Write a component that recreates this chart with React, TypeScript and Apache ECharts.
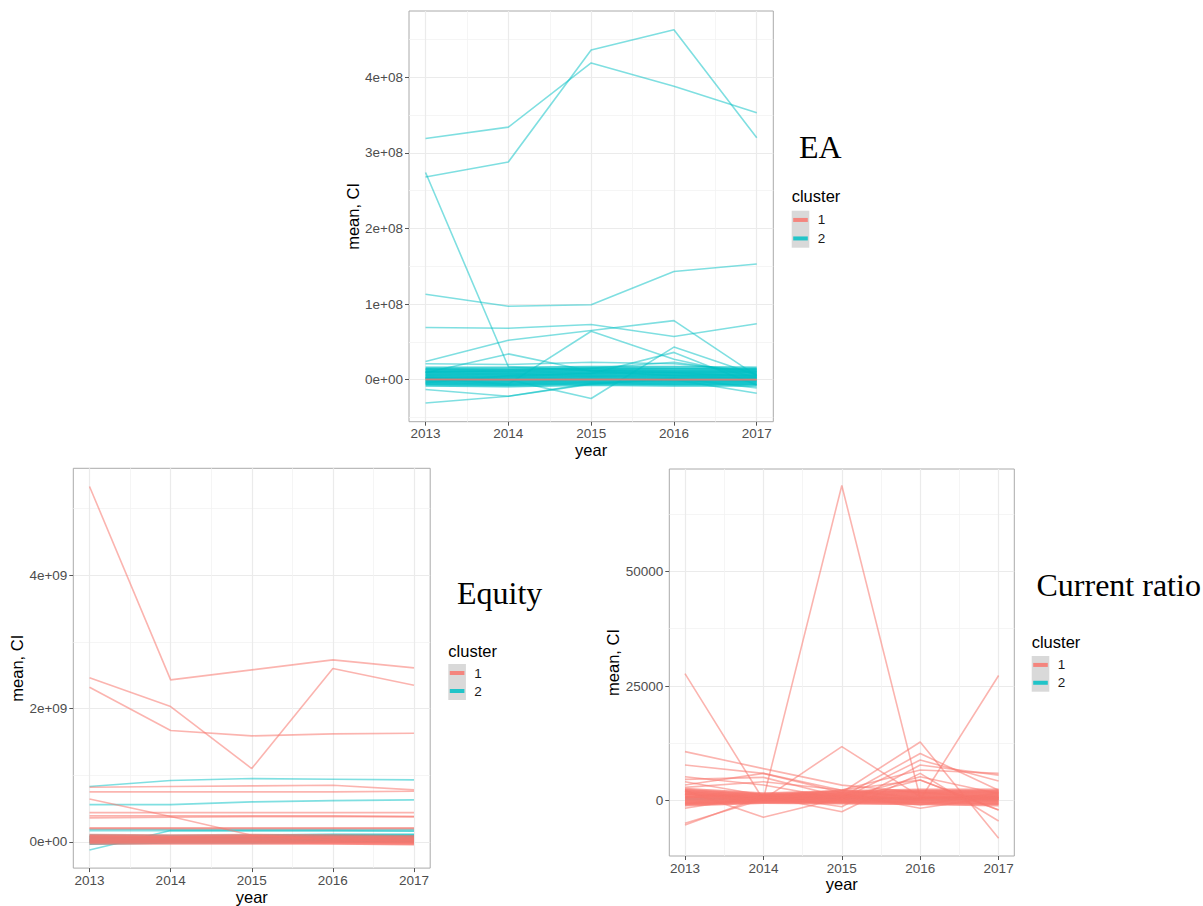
import React, { useEffect, useRef } from "react";
import * as echarts from "echarts";

// ---------- data ----------
const years = [2013, 2014, 2015, 2016, 2017];
const xTickValues = [2013, 2014, 2015, 2016, 2017];
const xMinorValues = [2013.5, 2014.5, 2015.5, 2016.5];

// EA panel, values in units of 1e8
const eaTickValues = [0, 1, 2, 3, 4];
const eaTickLabels = ["0e+00", "1e+08", "2e+08", "3e+08", "4e+08"];
const eaMinorValues = [-0.5, 0.5, 1.5, 2.5, 3.5, 4.5];
const eaCluster2Lines = [
  [3.19, 3.34, 4.19, 3.88, 3.53],
  [2.68, 2.88, 4.36, 4.63, 3.2],
  [2.74, 0.17, 0.12, 0.09, 0.04],
  [1.13, 0.97, 0.99, 1.43, 1.53],
  [0.69, 0.68, 0.73, 0.57, 0.74],
  [0.24, 0.52, 0.65, 0.78, 0.05],
  [0.02, -0.06, 0.64, 0.27, 0.03],
  [0.09, 0.34, 0.11, 0.05, 0.02],
  [0.21, 0.2, 0.23, 0.21, 0.11],
  [0.03, 0.0, -0.25, 0.43, 0.06],
  [-0.04, 0.05, 0.08, 0.36, -0.07],
  [-0.13, -0.22, -0.06, 0.02, -0.11],
  [-0.31, -0.22, -0.05, 0.0, -0.18],
  [0.1, 0.12, 0.15, 0.23, 0.08],
];
const eaCluster2Band = [
  [0.15, 0.15, 0.16, 0.16, 0.15],
  [0.13, 0.12, 0.14, 0.13, 0.13],
  [0.11, 0.1, 0.12, 0.11, 0.11],
  [0.09, 0.08, 0.1, 0.09, 0.09],
  [0.07, 0.06, 0.08, 0.07, 0.07],
  [0.05, 0.04, 0.06, 0.05, 0.05],
  [0.03, 0.02, 0.04, 0.03, 0.03],
  [0.01, 0.0, 0.02, 0.01, 0.01],
  [-0.01, -0.02, 0.0, -0.01, -0.01],
  [-0.03, -0.04, -0.02, -0.03, -0.03],
  [-0.05, -0.06, -0.04, -0.05, -0.05],
  [-0.07, -0.08, -0.06, -0.07, -0.07],
];
const eaCluster1Lines = [
  [0.0, 0.0, 0.0, 0.0, 0.0],
  [0.005, 0.0, 0.005, 0.0, 0.0],
];

// Equity panel, values in units of 1e9
const eqTickValues = [0, 2, 4];
const eqTickLabels = ["0e+00", "2e+09", "4e+09"];
const eqMinorValues = [1, 3, 5];
const eqCluster2Lines = [
  [0.83, 0.92, 0.95, 0.94, 0.93],
  [0.56, 0.56, 0.6, 0.62, 0.63],
  [0.19, 0.19, 0.19, 0.19, 0.19],
  [0.17, 0.17, 0.17, 0.17, 0.16],
  [-0.12, 0.17, 0.17, 0.17, 0.17],
];
const eqCluster2Band = [
  [0.09, 0.08, 0.09, 0.1, 0.1],
  [0.06, 0.06, 0.07, 0.08, 0.08],
  [0.03, 0.04, 0.05, 0.05, 0.06],
  [0.01, 0.02, 0.02, 0.03, 0.03],
  [-0.02, 0.0, 0.0, 0.01, 0.01],
];
const eqCluster1Lines = [
  [5.33, 2.43, 2.58, 2.73, 2.61],
  [2.46, 2.03, 1.1, 2.6, 2.35],
  [2.32, 1.67, 1.59, 1.62, 1.63],
  [0.82, 0.83, 0.84, 0.85, 0.78],
  [0.75, 0.75, 0.75, 0.75, 0.76],
  [0.645, 0.38, 0.1, 0.03, 0.02],
  [0.44, 0.44, 0.44, 0.44, 0.44],
  [0.39, 0.39, 0.39, 0.39, 0.38],
  [0.36, 0.37, 0.38, 0.38, 0.38],
  [0.21, 0.21, 0.21, 0.21, 0.21],
  [0.2, 0.2, 0.2, 0.2, 0.2],
];
const eqCluster1Band = [
  [0.1, 0.09, 0.1, 0.09, 0.08],
  [0.08, 0.07, 0.08, 0.07, 0.06],
  [0.06, 0.06, 0.06, 0.05, 0.04],
  [0.04, 0.04, 0.04, 0.03, 0.02],
  [0.02, 0.02, 0.02, 0.01, 0.0],
  [0.0, 0.0, 0.0, -0.01, -0.02],
  [-0.02, -0.02, -0.02, -0.02, -0.03],
];

// Current ratio panel
const crTickValues = [0, 25000, 50000];
const crTickLabels = ["0", "25000", "50000"];
const crMinorValues = [12500, 37500, 62500];
const crCluster2Lines = [
  [300, 200, 400, 300, 200],
  [600, 500, 700, 500, 600],
];
const crCluster1Lines = [
  [1500, 400, 68700, 600, 800],
  [27700, 200, 800, 500, 1200],
  [900, 300, 1200, 200, 27300],
  [-4930, 300, 11800, 900, 500],
  [10700, 7000, 3400, 1800, 600],
  [7800, 5960, 2300, 600, 300],
  [-5290, 900, 2300, 4500, -2030],
  [3410, 5960, 1800, 12800, -8200],
  [4650, 5090, 800, 10300, 2300],
  [5230, 3410, 400, 8860, 4280],
  [4140, 1200, -1300, 7780, 5580],
  [2900, 4140, 2320, 6690, 5950],
  [-1660, 1000, -2390, 5960, -4420],
  [2200, -3620, 600, 5230, 1500],
  [1500, 800, 200, 4500, -2030],
  [800, 1400, 1000, -940, 1800],
  [2000, 600, 1500, -1660, 900],
];
const crCluster1Band = [
  [2500, 1500, 2000, 2300, 2300],
  [2200, 1300, 1800, 2050, 2000],
  [1900, 1100, 1550, 1800, 1750],
  [1600, 900, 1300, 1550, 1500],
  [1300, 750, 1100, 1300, 1250],
  [1000, 600, 900, 1050, 1000],
  [700, 450, 700, 800, 750],
  [400, 300, 500, 550, 500],
  [100, 150, 300, 300, 250],
  [-200, 0, 100, 50, 0],
  [-450, -150, -100, -200, -300],
  [-700, -250, -300, -450, -600],
  [-900, -350, -500, -650, -900],
];

const clusterNames = ["1", "2"];
const panelTitles = ["EA", "Equity", "Current ratio"];

// ---------- styling ----------
const RED = "#F8766D";
const TEAL = "#00BFC4";
const SANS = "'Liberation Sans', Arial, Helvetica, sans-serif";
const SERIF = "'Liberation Serif', 'Times New Roman', serif";

type Panel = {
  left: number; top: number; width: number; height: number;
  yMin: number; yMax: number;
  yTicks: number[]; yLabels: string[]; yMinor: number[];
  xNameGap: number; yNameGap: number;
  teal: number[][]; tealBand: number[][];
  red: number[][]; redBand: number[][];
};

const panels: Panel[] = [
  {
    left: 409, top: 11, width: 364.3, height: 410.7,
    yMin: -0.557, yMax: 4.877,
    yTicks: eaTickValues, yLabels: eaTickLabels, yMinor: eaMinorValues,
    xNameGap: 19, yNameGap: 44,
    teal: eaCluster2Lines, tealBand: eaCluster2Band, red: eaCluster1Lines, redBand: [],
  },
  {
    left: 73.3, top: 468.3, width: 356.9, height: 402.4,
    yMin: -0.3925, yMax: 5.6025,
    yTicks: eqTickValues, yLabels: eqTickLabels, yMinor: eqMinorValues,
    xNameGap: 17, yNameGap: 44,
    teal: eqCluster2Lines, tealBand: eqCluster2Band, red: eqCluster1Lines, redBand: eqCluster1Band,
  },
  {
    left: 669.3, top: 469, width: 345, height: 387,
    yMin: -12050, yMax: 72300,
    yTicks: crTickValues, yLabels: crTickLabels, yMinor: crMinorValues,
    xNameGap: 17, yNameGap: 41,
    teal: crCluster2Lines, tealBand: [], red: crCluster1Lines, redBand: crCluster1Band,
  },
];

const legends = [
  { x: 791.7, titleY: 196, boxTop: 210.7, keyH: 18.5, tx: 799, ty: 147 },
  { x: 448.3, titleY: 651, boxTop: 664, keyH: 18, tx: 457, ty: 593.3 },
  { x: 1031.7, titleY: 642.3, boxTop: 656, keyH: 17.85, tx: 1036.5, ty: 585 },
];

function buildOption() {
  const grid: any[] = [];
  const xAxis: any[] = [];
  const yAxis: any[] = [];
  const series: any[] = [];
  const graphic: any[] = [];

  panels.forEach((p, i) => {
    grid.push({
      left: p.left, top: p.top, width: p.width, height: p.height,
      show: true, borderColor: "#aaaaaa", borderWidth: 1, backgroundColor: "#ffffff",
    });
    xAxis.push({
      type: "value", gridIndex: i, min: 2012.8, max: 2017.2, position: "bottom",
      name: "year", nameLocation: "middle", nameGap: p.xNameGap,
      nameTextStyle: { fontFamily: SANS, fontSize: 16.5, color: "#000" },
      axisLine: { show: false, onZero: false },
      axisTick: { show: true, length: 4, customValues: xTickValues, lineStyle: { color: "#555", width: 1 } },
      axisLabel: {
        show: true, customValues: xTickValues, margin: 5,
        fontFamily: SANS, fontSize: 13.5, color: "#4d4d4d",
        formatter: (v: number) => String(Math.round(v)),
      },
      splitLine: { show: true, lineStyle: { color: "#ebebeb", width: 1.2 } },
    });
    xAxis.push({
      type: "value", gridIndex: i, min: 2012.8, max: 2017.2, position: "top",
      axisLine: { show: false, onZero: false },
      axisTick: { show: false, customValues: xMinorValues },
      axisLabel: { show: false, customValues: xMinorValues },
      splitLine: { show: true, lineStyle: { color: "#f3f3f3", width: 0.8 } },
    });
    yAxis.push({
      type: "value", gridIndex: i, min: p.yMin, max: p.yMax, position: "left",
      name: "mean, CI", nameLocation: "middle", nameGap: p.yNameGap, nameRotate: 90,
      nameTextStyle: { fontFamily: SANS, fontSize: 16.5, color: "#000" },
      axisLine: { show: false, onZero: false },
      axisTick: { show: true, length: 4, customValues: p.yTicks, lineStyle: { color: "#555", width: 1 } },
      axisLabel: {
        show: true, customValues: p.yTicks, margin: 6,
        fontFamily: SANS, fontSize: 13.5, color: "#4d4d4d",
        formatter: (v: number) => {
          const k = p.yTicks.findIndex((t) => Math.abs(t - v) < 1e-6 * Math.max(1, Math.abs(t)));
          return k >= 0 ? p.yLabels[k] : "";
        },
      },
      splitLine: { show: true, lineStyle: { color: "#ebebeb", width: 1.2 } },
    });
    yAxis.push({
      type: "value", gridIndex: i, min: p.yMin, max: p.yMax, position: "right",
      axisLine: { show: false, onZero: false },
      axisTick: { show: false, customValues: p.yMinor },
      axisLabel: { show: false, customValues: p.yMinor },
      splitLine: { show: true, lineStyle: { color: "#f3f3f3", width: 0.8 } },
    });

    const mk = (vals: number[], color: string, width: number, opacity: number, z: number) => ({
      type: "line",
      xAxisIndex: 2 * i,
      yAxisIndex: 2 * i,
      data: years.map((y, k) => [y, vals[k]]),
      showSymbol: false,
      symbol: "none",
      silent: true,
      z,
      lineStyle: { color, width, opacity },
    });
    p.tealBand.forEach((v) => series.push(mk(v, TEAL, 3.5, 0.7, 2)));
    p.teal.forEach((v) => series.push(mk(v, TEAL, 1.6, 0.5, 2)));
    p.redBand.forEach((v) => series.push(mk(v, RED, 3.2, 0.7, 3)));
    p.red.forEach((v) => series.push(mk(v, RED, 1.6, 0.55, 3)));

    const L = legends[i];
    graphic.push({
      type: "text", x: L.tx, y: L.ty, z: 10,
      style: { text: panelTitles[i], fontFamily: SERIF, fontSize: 32, fill: "#000", align: "left", verticalAlign: "middle" },
    });
    graphic.push({
      type: "text", x: L.x, y: L.titleY, z: 10,
      style: { text: "cluster", fontFamily: SANS, fontSize: 16.5, fill: "#000", align: "left", verticalAlign: "middle" },
    });
    graphic.push({
      type: "rect", x: L.x, y: L.boxTop, z: 10,
      shape: { x: 0, y: 0, width: 17.6, height: L.keyH * 2 },
      style: { fill: "#d9d9d9" },
    });
    [RED, TEAL].forEach((c, k) => {
      const cy = L.boxTop + L.keyH * (k + 0.5);
      graphic.push({
        type: "line", z: 11,
        shape: { x1: L.x + 1.5, y1: cy, x2: L.x + 16.1, y2: cy },
        style: { stroke: c, lineWidth: 4, opacity: 0.85 },
      });
      graphic.push({
        type: "text", x: L.x + 26, y: cy, z: 11,
        style: { text: clusterNames[k], fontFamily: SANS, fontSize: 13.5, fill: "#1a1a1a", align: "left", verticalAlign: "middle" },
      });
    });
  });

  return { animation: false, backgroundColor: "#ffffff", grid, xAxis, yAxis, series, graphic };
}

export default function App() {
  const ref = useRef<HTMLDivElement>(null);
  useEffect(() => {
    if (!ref.current) return;
    const chart = echarts.init(ref.current, null, { renderer: "svg" });
    chart.setOption(buildOption() as any);
    return () => chart.dispose();
  }, []);
  return (
    <div
      ref={ref}
      style={{ position: "absolute", left: 0, top: 0, width: 1203, height: 906 }}
    />
  );
}
